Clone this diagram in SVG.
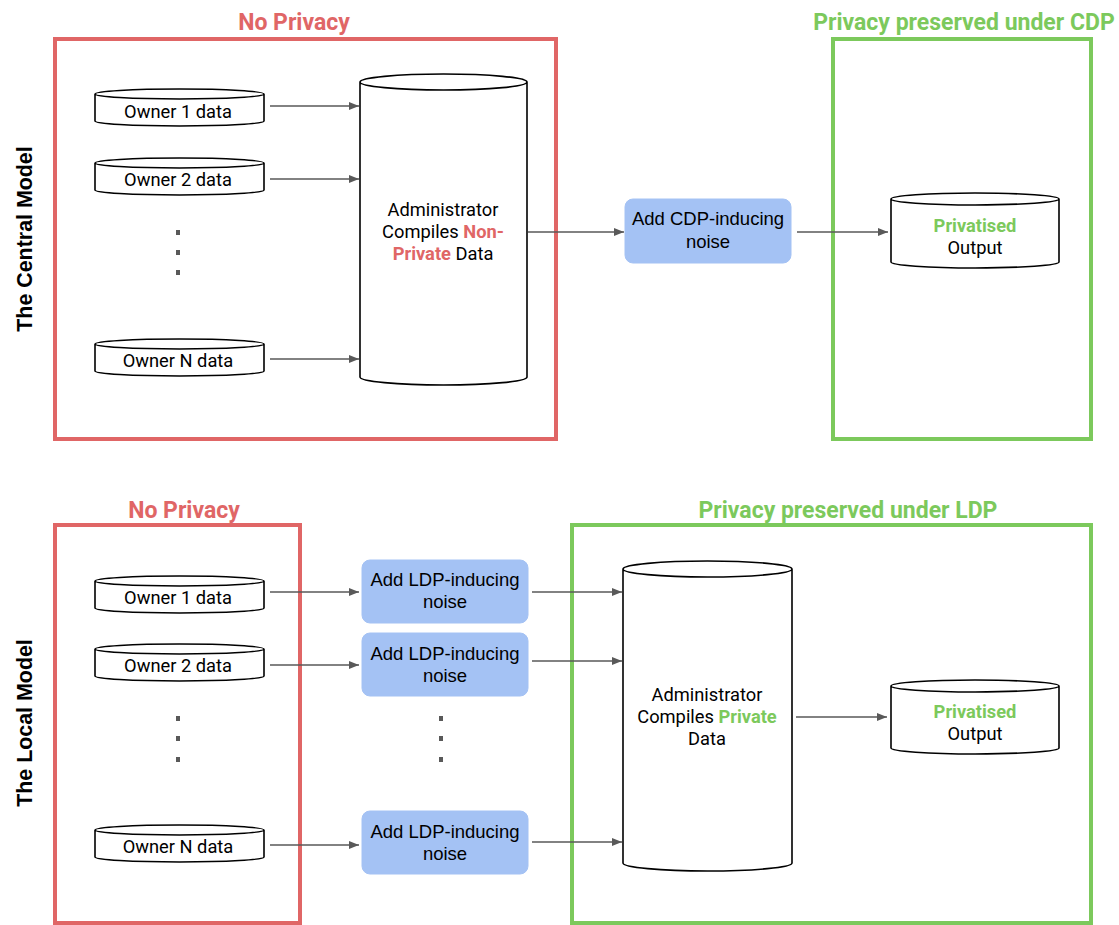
<svg xmlns="http://www.w3.org/2000/svg" width="1119" height="925" viewBox="0 0 1119 925">
<defs>
<style>
.red{fill:none;stroke:#e06666;stroke-width:4}
.green{fill:none;stroke:#7cc95c;stroke-width:4}
.ttl{font-family:Roboto,"Liberation Sans",sans-serif;font-weight:bold;font-size:23px;text-anchor:middle}
.side{font-family:"Liberation Sans",Arial,sans-serif;font-weight:bold;font-size:21.4px;text-anchor:middle;fill:#000}
.cyl{fill:#fff;stroke:#000;stroke-width:1.6}
.t{font-family:Roboto,"Liberation Sans",sans-serif;font-size:18.3px;text-anchor:middle;fill:#000}
.tb{font-family:"Liberation Sans",Arial,sans-serif;font-size:18.5px;text-anchor:middle;fill:#000}
.noise{fill:#a4c2f4;stroke:#a4c2f4;stroke-width:1}
.conn line{stroke:#595959;stroke-width:1.4;marker-end:url(#ah)}
.dot{fill:#595959}
.rb{fill:#e06666;font-weight:bold}
.gb{fill:#7cc95c;font-weight:bold}
</style>
<marker id="ah" viewBox="0 0 10 8" refX="10" refY="4" markerWidth="10" markerHeight="8" markerUnits="userSpaceOnUse" orient="auto">
<path d="M0,0 L10,4 L0,8 Z" fill="#595959"/>
</marker>
</defs>
<rect width="1119" height="925" fill="#fff"/>

<!-- Central model -->
<g id="central-label"><text class="side" transform="translate(32,239) rotate(-90)">The Central Model</text></g>
<g id="c-noprivacy"><rect class="red" x="55" y="39" width="501" height="400"/><text class="ttl" x="294" y="30" fill="#e06666">No Privacy</text></g>
<g id="c-cdp-zone"><rect class="green" x="833" y="39" width="258" height="400"/><text class="ttl" x="964" y="30" fill="#7cc95c">Privacy preserved under CDP</text></g>

<g id="c-owner1"><path class="cyl" d="M95,94 A84.5,5 0 0 1 264,94 V121 A84.5,5 0 0 1 95,121 Z M95,94 A84.5,5 0 0 0 264,94"/><text class="t" x="178" y="118">Owner 1 data</text></g>
<g id="c-owner2"><path class="cyl" d="M95,163 A84.5,5 0 0 1 264,163 V190 A84.5,5 0 0 1 95,190 Z M95,163 A84.5,5 0 0 0 264,163"/><text class="t" x="178" y="186">Owner 2 data</text></g>
<g id="c-dots"><rect class="dot" x="176" y="230" width="4" height="5"/><rect class="dot" x="176" y="250" width="4" height="5"/><rect class="dot" x="176" y="270" width="4" height="5"/></g>
<g id="c-ownerN"><path class="cyl" d="M95,344 A84.5,5 0 0 1 264,344 V371 A84.5,5 0 0 1 95,371 Z M95,344 A84.5,5 0 0 0 264,344"/><text class="t" x="178" y="367">Owner N data</text></g>

<g id="c-admin"><path class="cyl" d="M360,82 A83.5,8 0 0 1 527,82 V377 A83.5,8 0 0 1 360,377 Z M360,82 A83.5,8 0 0 0 527,82"/>
<text class="t" x="443" y="216">Administrator</text>
<text class="t" x="443" y="238">Compiles <tspan class="rb">Non-</tspan></text>
<text class="t" x="443" y="260"><tspan class="rb">Private</tspan> Data</text></g>

<g id="c-noise"><rect class="noise" x="625" y="199" width="166" height="64" rx="8"/><text class="tb" x="708" y="225">Add CDP-inducing</text><text class="tb" x="708" y="248">noise</text></g>

<g id="c-output"><path class="cyl" d="M891,199 A84,6 0 0 1 1059,199 V262 A84,6 0 0 1 891,262 Z M891,199 A84,6 0 0 0 1059,199"/><text class="t" x="975" y="232"><tspan class="gb">Privatised</tspan></text><text class="t" x="975" y="254">Output</text></g>

<!-- Local model -->
<g id="local-label"><text class="side" transform="translate(32,723) rotate(-90)">The Local Model</text></g>
<g id="l-noprivacy"><rect class="red" x="55" y="525" width="245" height="398"/><text class="ttl" x="184" y="518" fill="#e06666">No Privacy</text></g>
<g id="l-ldp-zone"><rect class="green" x="572" y="525" width="519" height="398"/><text class="ttl" x="848" y="518" fill="#7cc95c">Privacy preserved under LDP</text></g>

<g id="l-owner1"><path class="cyl" d="M95,581 A84.5,5 0 0 1 264,581 V608 A84.5,5 0 0 1 95,608 Z M95,581 A84.5,5 0 0 0 264,581"/><text class="t" x="178" y="604">Owner 1 data</text></g>
<g id="l-owner2"><path class="cyl" d="M95,649 A84.5,5 0 0 1 264,649 V676 A84.5,5 0 0 1 95,676 Z M95,649 A84.5,5 0 0 0 264,649"/><text class="t" x="178" y="672">Owner 2 data</text></g>
<g id="l-dots1"><rect class="dot" x="176" y="716" width="4" height="5"/><rect class="dot" x="176" y="736" width="4" height="5"/><rect class="dot" x="176" y="757" width="4" height="5"/></g>
<g id="l-ownerN"><path class="cyl" d="M95,830 A84.5,5 0 0 1 264,830 V857 A84.5,5 0 0 1 95,857 Z M95,830 A84.5,5 0 0 0 264,830"/><text class="t" x="178" y="853">Owner N data</text></g>

<g id="l-noise1"><rect class="noise" x="362" y="560" width="166" height="63" rx="8"/><text class="tb" x="445" y="586">Add LDP-inducing</text><text class="tb" x="445" y="608">noise</text></g>
<g id="l-noise2"><rect class="noise" x="362" y="633" width="166" height="63" rx="8"/><text class="tb" x="445" y="660">Add LDP-inducing</text><text class="tb" x="445" y="682">noise</text></g>
<g id="l-dots2"><rect class="dot" x="439" y="716" width="4" height="5"/><rect class="dot" x="439" y="736" width="4" height="5"/><rect class="dot" x="439" y="757" width="4" height="5"/></g>
<g id="l-noise3"><rect class="noise" x="362" y="811" width="166" height="63" rx="8"/><text class="tb" x="445" y="838">Add LDP-inducing</text><text class="tb" x="445" y="860">noise</text></g>

<g id="l-admin"><path class="cyl" d="M623,569 A84.5,8 0 0 1 792,569 V863 A84.5,8 0 0 1 623,863 Z M623,569 A84.5,8 0 0 0 792,569"/>
<text class="t" x="707" y="701">Administrator</text>
<text class="t" x="707" y="723">Compiles <tspan class="gb">Private</tspan></text>
<text class="t" x="707" y="745">Data</text></g>

<g id="l-output"><path class="cyl" d="M891,686 A84,6 0 0 1 1059,686 V748 A84,6 0 0 1 891,748 Z M891,686 A84,6 0 0 0 1059,686"/><text class="t" x="975" y="718"><tspan class="gb">Privatised</tspan></text><text class="t" x="975" y="740">Output</text></g>

<g id="connectors" class="conn">
<line x1="270" y1="106" x2="359" y2="106"/>
<line x1="270" y1="179" x2="359" y2="179"/>
<line x1="270" y1="359" x2="359" y2="359"/>
<line x1="528" y1="232" x2="624" y2="232"/>
<line x1="797" y1="232" x2="888" y2="232"/>
<line x1="270" y1="592" x2="359" y2="592"/>
<line x1="270" y1="665" x2="359" y2="665"/>
<line x1="270" y1="845" x2="359" y2="845"/>
<line x1="532" y1="592" x2="622" y2="592"/>
<line x1="532" y1="661" x2="622" y2="661"/>
<line x1="532" y1="842" x2="622" y2="842"/>
<line x1="796" y1="717" x2="887" y2="717"/>
</g>
</svg>
